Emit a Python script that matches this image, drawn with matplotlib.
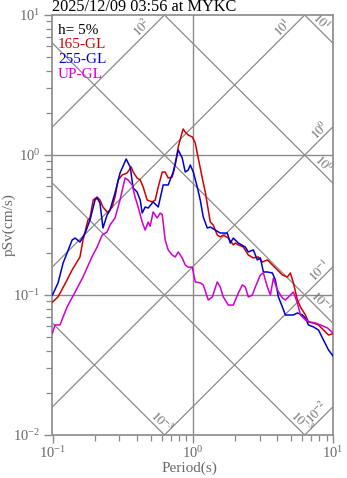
import numpy as np
import matplotlib
matplotlib.use('Agg')
import matplotlib.pyplot as plt
from matplotlib.ticker import LogLocator, NullFormatter

# ---------------- data ----------------
period_165 = [0.1, 0.1095, 0.127, 0.138, 0.157, 0.165, 0.179, 0.185, 0.195, 0.208, 0.218, 0.229,
              0.249, 0.266, 0.279, 0.294, 0.3135, 0.3405, 0.364, 0.376, 0.401, 0.422, 0.443, 0.473,
              0.5135, 0.54, 0.5675, 0.606, 0.636, 0.668, 0.714, 0.75, 0.788, 0.841, 0.855, 0.884,
              0.929, 0.992, 1.042, 1.094, 1.169, 1.228, 1.29, 1.334, 1.40, 1.496, 1.571, 1.651,
              1.793, 1.946, 2.012, 2.114, 2.294, 2.49, 2.704, 2.936, 3.135, 3.405, 3.697, 4.013,
              4.358, 4.73, 4.969, 5.22, 5.575, 5.86, 6.36, 6.68, 7.26, 7.88, 8.55, 9.29, 9.8, 10.0]
psv_165 = [0.089, 0.097, 0.128, 0.151, 0.187, 0.247, 0.343, 0.355, 0.477, 0.501, 0.477, 0.425,
           0.385, 0.425, 0.501, 0.663, 0.720, 0.744, 0.821, 0.756, 0.685, 0.663, 0.591, 0.477,
           0.462, 0.477, 0.591, 0.756, 0.756, 0.685, 0.697, 0.848, 1.141, 1.459, 1.534, 1.459,
           1.389, 1.345, 1.218, 0.952, 0.685, 0.544, 0.405, 0.332, 0.316, 0.268, 0.260, 0.268,
           0.255, 0.228, 0.235, 0.228, 0.220, 0.193, 0.184, 0.187, 0.172, 0.178, 0.164, 0.151,
           0.139, 0.1345, 0.1436, 0.122, 0.0921, 0.0821, 0.0720, 0.0641, 0.0631, 0.0611, 0.0562,
           0.0518, 0.0526, 0.0535]

period_255 = [0.1, 0.1095, 0.119, 0.127, 0.138, 0.145, 0.157, 0.171, 0.185, 0.201, 0.208, 0.218,
              0.229, 0.245, 0.257, 0.279, 0.303, 0.335, 0.358, 0.376, 0.401, 0.422, 0.436, 0.458,
              0.481, 0.522, 0.5675, 0.6155, 0.668, 0.726, 0.788, 0.841, 0.884, 0.929, 0.96, 1.009,
              1.077, 1.131, 1.188, 1.269, 1.334, 1.448, 1.571, 1.763, 1.852, 1.946, 2.114, 2.371,
              2.49, 2.704, 2.888, 3.034, 3.189, 3.405, 3.697, 3.882, 4.08, 4.358, 4.577, 4.81,
              5.22, 5.575, 6.057, 6.36, 6.68, 7.26, 7.88, 8.55, 9.29, 10.0]
psv_255 = [0.1, 0.122, 0.169, 0.1995, 0.247, 0.255, 0.239, 0.277, 0.343, 0.477, 0.493, 0.454,
           0.301, 0.373, 0.405, 0.535, 0.744, 0.936, 0.821, 0.581, 0.544, 0.477, 0.385, 0.425,
           0.418, 0.462, 0.425, 0.611, 0.611, 0.756, 1.086, 0.952, 0.756, 0.781, 0.848, 0.756,
           0.591, 0.477, 0.361, 0.301, 0.306, 0.291, 0.277, 0.277, 0.235, 0.255, 0.235, 0.220,
           0.203, 0.210, 0.178, 0.184, 0.146, 0.146, 0.1436, 0.128, 0.0968, 0.0821, 0.072, 0.072,
           0.072, 0.0744, 0.072, 0.0685, 0.0611, 0.0591, 0.0562, 0.0477, 0.0405, 0.0367]

period_up = [0.1, 0.104, 0.113, 0.127, 0.145, 0.165, 0.191, 0.208, 0.226, 0.245, 0.257, 0.279,
             0.303, 0.329, 0.346, 0.370, 0.388, 0.408, 0.436, 0.458, 0.481, 0.497, 0.522, 0.5575,
             0.586, 0.606, 0.636, 0.668, 0.714, 0.75, 0.788, 0.841, 0.884, 0.929, 0.992, 1.042,
             1.131, 1.188, 1.29, 1.378, 1.496, 1.571, 1.651, 1.793, 1.946, 2.114, 2.258, 2.371,
             2.49, 2.66, 2.793, 3.034, 3.189, 3.405, 3.577, 3.758, 4.013, 4.358, 4.577, 4.969,
             5.22, 5.575, 5.86, 6.36, 6.9, 7.5, 8.14, 9.14, 10.0]
psv_up = [0.0535, 0.0611, 0.0611, 0.0821, 0.105, 0.1345, 0.187, 0.220, 0.268, 0.282, 0.316, 0.355,
          0.477, 0.685, 0.663, 0.611, 0.501, 0.425, 0.332, 0.291, 0.332, 0.310, 0.392, 0.355,
          0.385, 0.375, 0.247, 0.210, 0.193, 0.187, 0.203, 0.184, 0.164, 0.158, 0.158, 0.124,
          0.122, 0.118, 0.0921, 0.0968, 0.124, 0.114, 0.0968, 0.0848, 0.0848, 0.1033, 0.118, 0.114,
          0.0968, 0.1, 0.114, 0.139, 0.1436, 0.114, 0.1, 0.132, 0.1086, 0.0952, 0.0921, 0.1,
          0.105, 0.0877, 0.072, 0.0663, 0.0641, 0.0631, 0.0611, 0.0581, 0.0535]

series_names = ['165-GL', '255-GL', 'UP-GL']
series_colors = ['#d40000', '#0000d0', '#d000d0']

# tripartite guide-line decades (Sd in cm, Sa in cm/s^2)
sd_decades = [-3, -2, -1, 0, 1]
sa_decades = [-2, -1, 0, 1, 2]
# labels: (exponent of the line, period where placed, text)
sd_labels = [(1, 7.6, r'$10^{1}$'), (0, 7.9, r'$10^{0}$'), (-1, 7.6, r'$10^{-1}$'),
             (-2, 5.5, r'$10^{-3}$'), (-3, 0.55, r'$10^{-3}$')]
sa_labels = [(2, 0.47, r'$10^{2}$'), (1, 4.73, r'$10^{1}$'), (0, 8.7, r'$10^{0}$'),
             (-1, 8.7, r'$10^{-1}$'), (-2, 8.4, r'$10^{-2}$')]

title = '2025/12/09 03:56 at MYKC'
damping_text = 'h= 5%'

# ---------------- drawing ----------------
plt.rcParams['font.family'] = ['Liberation Serif', 'DejaVu Serif']
plt.rcParams['mathtext.fontset'] = 'stix'

W, H = 347, 478
fig = plt.figure(figsize=(W / 100, H / 100), dpi=100)
ax = fig.add_axes([52.5 / W, 1 - 435 / H, (333 - 52.5) / W, 420 / H])
ax.set_xscale('log')
ax.set_yscale('log')
ax.set_xlim(0.1, 10)
ax.set_ylim(0.01, 10)

gray = '#8a8a8a'
txtgray = '#6a6a6a'

ax.axhline(1, color=gray, lw=1.0, zorder=1)
ax.axhline(0.1, color=gray, lw=1.0, zorder=1)
ax.axvline(1, color=gray, lw=1.0, zorder=1)

Tg = np.logspace(-1.5, 1.5, 300)
for e in sd_decades:
    ax.plot(Tg, 2 * np.pi * 10.0 ** e / Tg, color=gray, lw=0.9, zorder=1)
for e in sa_decades:
    ax.plot(Tg, 10.0 ** e * Tg / (2 * np.pi), color=gray, lw=0.9, zorder=1)

for e, t, s in sd_labels:
    ax.annotate(s, xy=(t, 2 * np.pi * 10.0 ** e / t), xytext=(3.4, 3.4), textcoords='offset points',
                rotation=-45, rotation_mode='anchor', ha='center', va='center',
                fontsize=9, color=txtgray, zorder=2)
for e, t, s in sa_labels:
    ax.annotate(s, xy=(t, 10.0 ** e * t / (2 * np.pi)), xytext=(-3.4, 3.4), textcoords='offset points',
                rotation=45, rotation_mode='anchor', ha='center', va='center',
                fontsize=9, color=txtgray, zorder=2)

for p, v, c in zip([period_165, period_255, period_up], [psv_165, psv_255, psv_up], series_colors):
    ax.plot(p, v, color=c, lw=1.1, zorder=3)

# legend-like texts
ax.text(0.02, 0.964, damping_text, transform=ax.transAxes, color='black', fontsize=11, va='center', ha='left')
for i, (n, c) in enumerate(zip(series_names, series_colors)):
    ax.text(0.02, 0.929 - i * 0.0355, n, transform=ax.transAxes, color=c, fontsize=11,
            va='center', ha='left')

for sp in ax.spines.values():
    sp.set_color(gray)
    sp.set_linewidth(1.2)

ax.xaxis.set_major_locator(LogLocator(base=10, numticks=10))
ax.yaxis.set_major_locator(LogLocator(base=10, numticks=10))
ax.xaxis.set_minor_locator(LogLocator(base=10, subs=np.arange(2, 10), numticks=10))
ax.yaxis.set_minor_locator(LogLocator(base=10, subs=np.arange(2, 10), numticks=10))
ax.xaxis.set_minor_formatter(NullFormatter())
ax.yaxis.set_minor_formatter(NullFormatter())
ax.tick_params(which='major', direction='out', length=6, width=1.0, color=gray,
               labelsize=10.5, labelcolor=txtgray, top=False, right=False)
ax.tick_params(axis='x', which='major', pad=1.0)
ax.tick_params(axis='y', which='major', pad=3)
ax.tick_params(which='minor', direction='out', length=4, width=0.9, color=gray, top=False, right=False)

ax.set_xlabel('Period(s)', color=txtgray, fontsize=11, va='top')
ax.xaxis.set_label_coords(0.49, -0.064)
ax.set_ylabel('pSv(cm/s)', color=txtgray, fontsize=11)
ax.yaxis.set_label_coords(-0.13, 0.5)
ax.set_title(title, loc='left', fontsize=11.7, pad=3.0, color='black')

fig.savefig('out.png', dpi=100)
